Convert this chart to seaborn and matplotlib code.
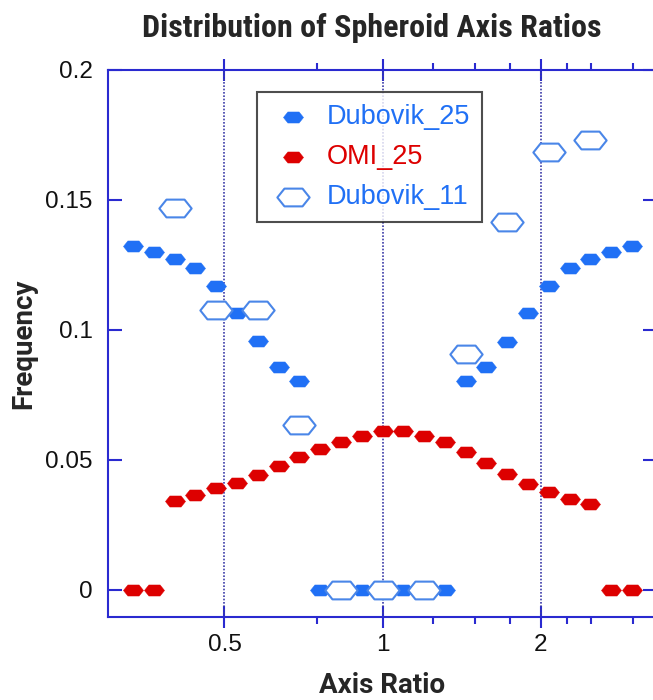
import numpy as np
import pandas as pd
import matplotlib
matplotlib.use("Agg")
import matplotlib.pyplot as plt
from matplotlib.markers import MarkerStyle
from matplotlib.path import Path
from matplotlib.ticker import FixedLocator, FixedFormatter, NullFormatter
import seaborn as sns

# ---------------- data ----------------
axis_ratio_25 = [0.3349, 0.3669, 0.4019, 0.4403, 0.4823, 0.5283, 0.5788, 0.6340,
                 0.6945, 0.7608, 0.8334, 0.9130, 1.0000, 1.0953, 1.1998, 1.3143,
                 1.4397, 1.5771, 1.7276, 1.8925, 2.0732, 2.2710, 2.4878, 2.7252,
                 2.9853]
dubovik_25 = [0.1323, 0.1300, 0.1272, 0.1240, 0.1170, 0.1065, 0.0956, 0.0858,
              0.0802, 0.0, 0.0, 0.0, 0.0, 0.0, 0.0, 0.0,
              0.0802, 0.0856, 0.0955, 0.1065, 0.1170, 0.1239, 0.1272, 0.1300,
              0.1323]
omi_25 = [0.0, 0.0, 0.0343, 0.0366, 0.0391, 0.0413, 0.0442, 0.0476,
          0.0512, 0.0542, 0.0569, 0.0592, 0.0611, 0.0611, 0.0592, 0.0569,
          0.0530, 0.0490, 0.0446, 0.0408, 0.0378, 0.0348, 0.0332, 0.0, 0.0]
axis_ratio_11 = [0.4019, 0.4823, 0.5788, 0.6945, 0.8334, 1.0000, 1.1998, 1.4397,
                 1.7276, 2.0732, 2.4878]
dubovik_11 = [0.1469, 0.1077, 0.1077, 0.0635, 0.0, 0.0, 0.0, 0.0908,
              0.1415, 0.1685, 0.1731]

x_major = [0.5, 1, 2]
x_major_labels = ["0.5", "1", "2"]
x_minor = [0.75, 1.25, 1.5, 1.75, 2.25, 2.5, 3.0]
y_ticks = [0, 0.05, 0.1, 0.15, 0.2]
y_tick_labels = ["0", "0.05", "0.1", "0.15", "0.2"]

df25 = pd.DataFrame({"ratio": axis_ratio_25, "Dubovik_25": dubovik_25, "OMI_25": omi_25})
df11 = pd.DataFrame({"ratio": axis_ratio_11, "Dubovik_11": dubovik_11})

# ---------------- style ----------------
sns.set_theme(style="white")
plt.rcParams["font.family"] = ["Liberation Sans", "DejaVu Sans"]

BLUE = "#2070f5"
RED = "#dd0000"
HOLLOW = "#4a86e8"
SPINE = "#2a2ad0"
GRID = "#3b3ba8"

hex_verts = [(-1.0, 0.0), (-0.56, 0.55), (0.56, 0.55), (1.0, 0.0),
             (0.56, -0.55), (-0.56, -0.55), (-1.0, 0.0)]
hex_marker = MarkerStyle(Path(hex_verts, closed=True))

fig = plt.figure(figsize=(6.53, 7.0), dpi=100)
ax = fig.add_axes([108 / 653, 83 / 700, 549 / 653, 547 / 700])

sns.scatterplot(data=df25, x="ratio", y="Dubovik_25", marker=hex_marker, s=210,
                color=BLUE, edgecolor=BLUE, linewidth=0.3, ax=ax,
                label="Dubovik_25", zorder=3)
sns.scatterplot(data=df25, x="ratio", y="OMI_25", marker=hex_marker, s=210,
                color=RED, edgecolor=RED, linewidth=0.3, ax=ax,
                label="OMI_25", zorder=3)
sns.scatterplot(data=df11, x="ratio", y="Dubovik_11", marker=hex_marker, s=540,
                color="white", edgecolor=HOLLOW, linewidth=1.5, ax=ax,
                label="Dubovik_11", zorder=4)

ax.set_xscale("log")
ax.set_xlim(0.3, 1 / 0.3)
ax.set_ylim(-0.0104, 0.2)

ax.xaxis.set_major_locator(FixedLocator(x_major))
ax.xaxis.set_major_formatter(FixedFormatter(x_major_labels))
ax.xaxis.set_minor_locator(FixedLocator(x_minor))
ax.xaxis.set_minor_formatter(NullFormatter())
ax.yaxis.set_major_locator(FixedLocator(y_ticks))
ax.yaxis.set_major_formatter(FixedFormatter(y_tick_labels))

ax.tick_params(axis="x", which="major", direction="inout", length=16, width=1.5,
               color=SPINE, top=True, bottom=True, labelsize=17.5, pad=4,
               labelcolor="#111111")
ax.tick_params(axis="x", which="minor", direction="out", length=5, width=1.5,
               color=SPINE, top=True, bottom=True)
ax.tick_params(axis="y", which="major", direction="in", length=10, width=1.5,
               color=SPINE, left=True, right=True, labelsize=17.5, pad=11,
               labelcolor="#111111")

for sp in ax.spines.values():
    sp.set_color(SPINE)
    sp.set_linewidth(1.5)

ax.grid(False)
for xv in x_major:
    ax.axvline(xv, color=GRID, linestyle=(0, (1, 1)), linewidth=1.2, zorder=1)

ax.set_xlabel("Axis Ratio", fontsize=20, fontweight="bold",
              family=["Roboto", "DejaVu Sans"], labelpad=11.5)
ax.set_ylabel("Frequency", fontsize=20, fontweight="bold",
              family=["Roboto", "DejaVu Sans"], labelpad=6)
fig.text(372 / 653, 1 - 28 / 700, "Distribution of Spheroid Axis Ratios",
         ha="center", va="center", fontsize=23, fontweight="bold",
         family=["Roboto Condensed", "Roboto", "DejaVu Sans"])

handles, labels = ax.get_legend_handles_labels()
leg = ax.legend(handles, labels, loc="upper left", bbox_to_anchor=(0.271, 0.960),
                frameon=True, fancybox=False, edgecolor="#222222", fontsize=19.5,
                borderpad=0.45, labelspacing=0.52, handlelength=1.8,
                handletextpad=0.32, borderaxespad=0)
leg.get_frame().set_linewidth(1.5)
for txt, c in zip(leg.get_texts(), [BLUE, RED, BLUE]):
    txt.set_color(c)

fig.savefig("out.png", dpi=100)
